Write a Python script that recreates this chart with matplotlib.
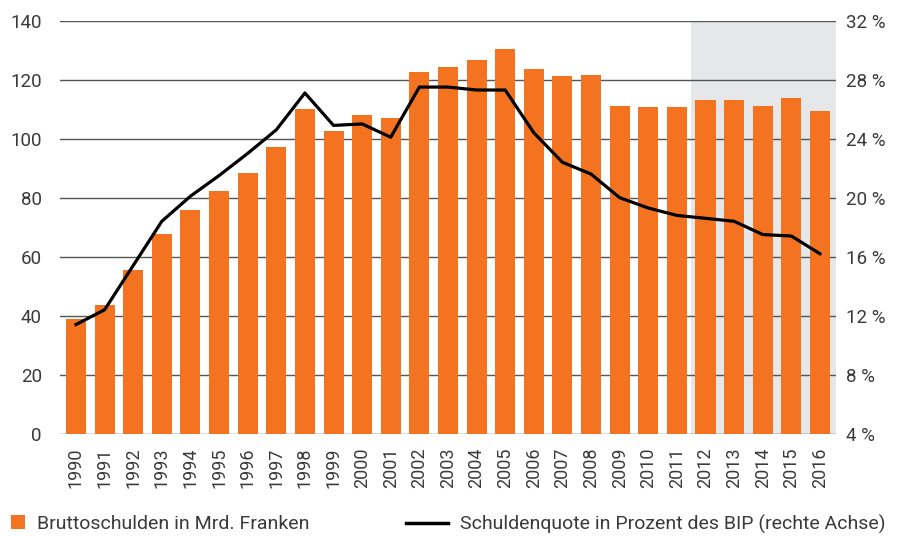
import matplotlib
matplotlib.use('Agg')
import matplotlib.pyplot as plt
from matplotlib.patches import Patch
from matplotlib.lines import Line2D

# === Data ===
years = [str(y) for y in range(1990, 2017)]
debt = [38.8, 43.7, 55.5, 67.8, 75.9, 82.1, 88.4, 97.1, 110.1, 102.5,
        108.1, 107.0, 122.5, 124.3, 126.7, 130.4, 123.6, 121.1, 121.7, 111.2,
        110.6, 110.6, 113.1, 113.1, 111.2, 113.7, 109.4]
quote = [11.4, 12.4, 15.4, 18.4, 20.1, 21.5, 23.0, 24.6, 27.1, 24.9,
         25.0, 24.1, 27.5, 27.5, 27.3, 27.3, 24.4, 22.4, 21.6, 20.0,
         19.3, 18.8, 18.6, 18.4, 17.5, 17.4, 16.2]
left_ticks = [0, 20, 40, 60, 80, 100, 120, 140]
right_ticks = [4, 8, 12, 16, 20, 24, 28, 32]
shade_from = 21.5  # forecast years from 2012

orange = '#F37321'
text_col = '#3a3a3a'
plt.rcParams['font.family'] = ['Roboto', 'DejaVu Sans']

fig = plt.figure(figsize=(9.03, 5.36), dpi=100)
ax = fig.add_axes([0.0664, 0.1909, 0.8594, 0.7705])
x = list(range(len(years)))

ax.axvspan(shade_from, 26.56, color='#E6E7E8', zorder=0, lw=0)
for t in left_ticks:
    ax.axhline(t, color='#555555', lw=1.0, zorder=1)
ax.bar(x, debt, width=0.7, color=orange, zorder=2)

ax.set_xlim(-0.56, 26.56)
ax.set_ylim(0, 140)
ax.set_yticks(left_ticks)
ax.set_xticks(x)
ax.set_xticklabels(years, rotation=90, fontsize=13, color=text_col)
ax.tick_params(axis='both', length=0, colors=text_col)
ax.tick_params(axis='y', labelsize=13.5, pad=13)
ax.tick_params(axis='x', pad=10)
for s in ax.spines.values():
    s.set_visible(False)

ax2 = ax.twinx()
ax2.plot(x, quote, color='black', lw=2.3, zorder=3)
ax2.set_ylim(4, 32)
ax2.set_yticks(right_ticks)
ax2.set_yticklabels([f'{t} %' for t in right_ticks])
ax2.tick_params(axis='y', length=0, labelsize=13.5, colors=text_col, pad=7)
for s in ax2.spines.values():
    s.set_visible(False)

h1 = Patch(facecolor=orange, edgecolor='none')
h2 = Line2D([], [], color='black', lw=2.5)
fig.legend([h1], ['Bruttoschulden in Mrd. Franken'], loc='center left',
           bbox_to_anchor=(0.0122, 0.0224), frameon=False, fontsize=14,
           borderpad=0, borderaxespad=0,
           handlelength=0.72, handleheight=0.72, handletextpad=0.62, labelcolor=text_col)
fig.legend([h2], ['Schuldenquote in Prozent des BIP (rechte Achse)'], loc='center left',
           bbox_to_anchor=(0.4496, 0.0224), frameon=False, fontsize=14,
           borderpad=0, borderaxespad=0,
           handlelength=2.16, handletextpad=0.62, labelcolor=text_col)

fig.savefig('out.png', dpi=100)
